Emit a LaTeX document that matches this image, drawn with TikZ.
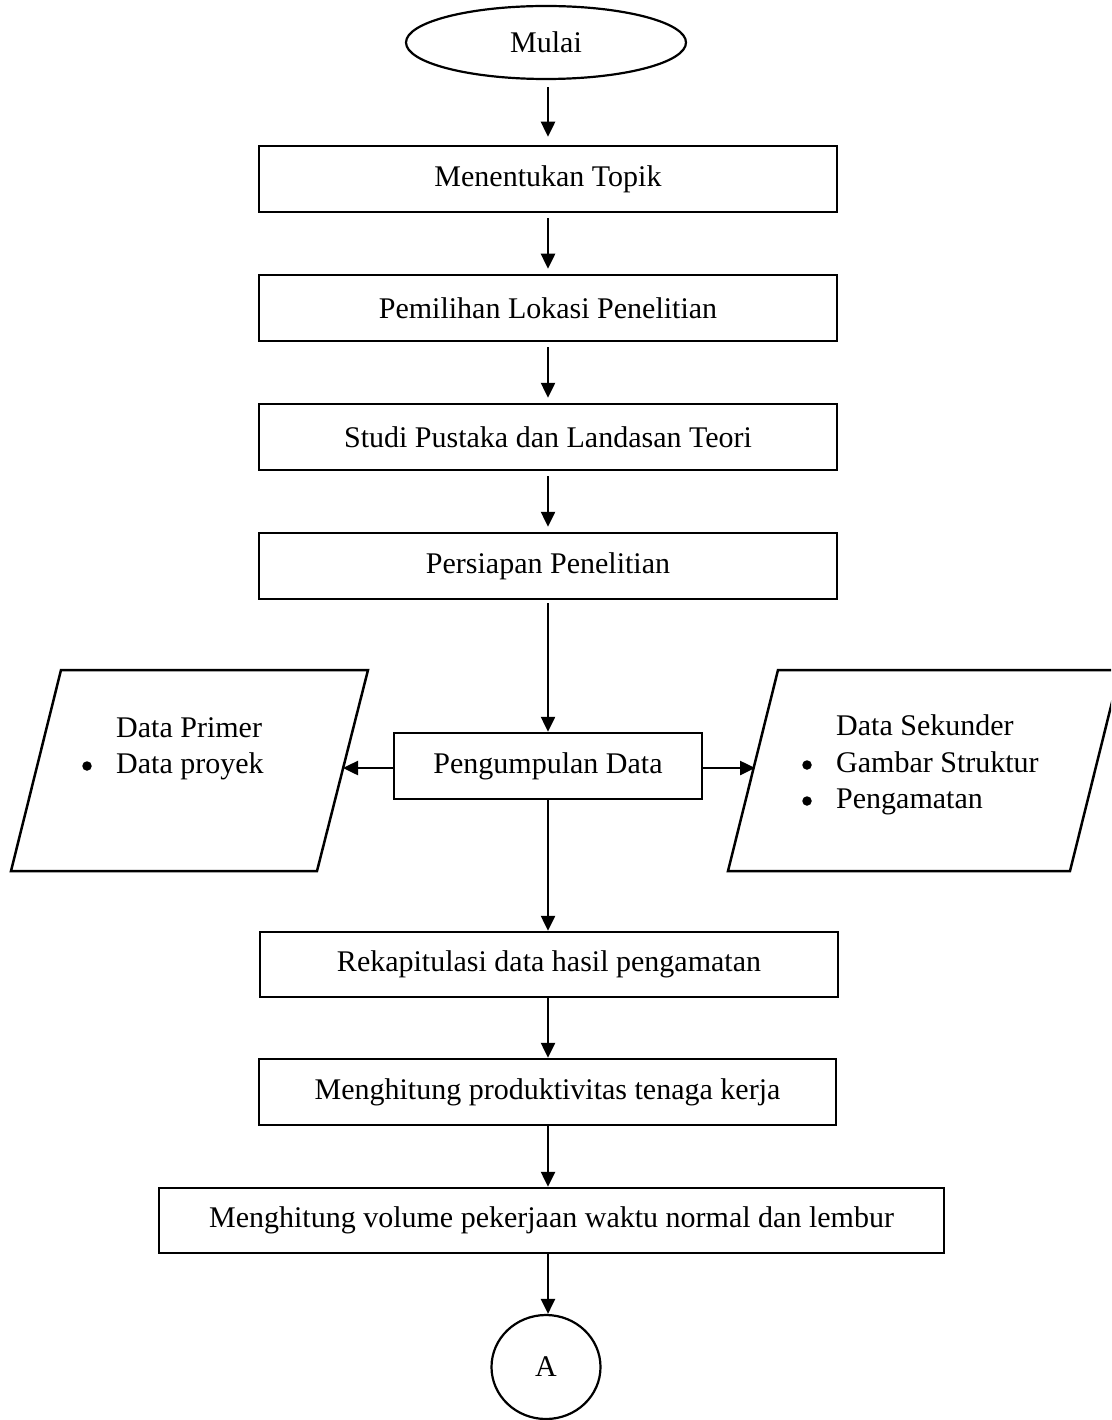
\documentclass[tikz,border=0pt]{standalone}
\usepackage{fontspec}
\setmainfont{Liberation Serif}
\usetikzlibrary{shapes.geometric,arrows.meta}
\tikzset{
  every node/.style={font=\fontsize{30}{36}\selectfont},
  procbox/.style={draw, line width=2.5pt, rectangle, minimum width=578pt, minimum height=66pt, inner sep=0pt},
  flowarrow/.style={line width=2.5pt, -{Triangle[length=15pt,width=14pt]}},
  shapeline/.style={line width=2.5pt, line join=miter},
  txt/.style={anchor=base west, inner sep=0pt},
  dotmark/.style={circle, fill, minimum size=9.5pt, inner sep=0pt}
}
\begin{document}
\begin{tikzpicture}[x=1pt,y=-1pt]
\clip (0,0) rectangle (1111,1420);
\useasboundingbox (0,0) rectangle (1111,1420);

\node[draw, ellipse, line width=2.2pt, minimum width=280pt, minimum height=73pt, inner sep=0pt] (mulai) at (546,42.5) {Mulai};
\node[procbox] (b1) at (548,179) {Menentukan Topik};
\node[procbox] (b2) at (548,308) {Pemilihan Lokasi Penelitian};
\node[procbox] (b3) at (548,437) {Studi Pustaka dan Landasan Teori};
\node[procbox] (b4) at (548,566) {Persiapan Penelitian};
\node[procbox, minimum width=308pt] (pd) at (548,766) {Pengumpulan Data};
\node[procbox, minimum height=65pt] (b5) at (549,964.5) {Rekapitulasi data hasil pengamatan};
\node[procbox, minimum width=577pt] (b6) at (547.5,1092) {Menghitung produktivitas tenaga kerja};
\node[procbox, minimum width=785pt, minimum height=65pt] (b7) at (551.5,1220.5) {Menghitung volume pekerjaan waktu normal dan lembur};
\node[draw, ellipse, line width=2.2pt, minimum width=109pt, minimum height=104pt, inner sep=0pt] (A) at (546,1367) {A};

% parallelograms
\coordinate (ltl) at (61,670);
\coordinate (ltr) at (368,670);
\coordinate (lbr) at (317,871);
\coordinate (lbl) at (11,871);
\draw[shapeline] (ltl) -- (ltr) -- (lbr) -- (lbl) -- cycle;
\coordinate (rtl) at (778,670);
\coordinate (rtr) at (1120,670);
\coordinate (rbr) at (1070,871);
\coordinate (rbl) at (728,871);
\draw[shapeline] (rtl) -- (rtr) -- (rbr) -- (rbl) -- cycle;

\node[txt] (lp1) at (116,737) {Data Primer};
\node[txt] (lp2) at (116,773) {Data proyek};
\node[dotmark] (lb1) at (87,766) {};
\node[txt] (rp1) at (836,735) {Data Sekunder};
\node[txt] (rp2) at (836,772) {Gambar Struktur};
\node[txt] (rp3) at (836,808) {Pengamatan};
\node[dotmark] (rb2) at (807,765) {};
\node[dotmark] (rb3) at (807,801) {};

\coordinate (pl) at (343,768);
\coordinate (pr) at (755,768);

% connectors
\draw[flowarrow, shorten <=7pt, shorten >=8pt] (mulai.south -| b1.north) -- (b1.north);
\draw[flowarrow, shorten <=5pt, shorten >=5pt] (b1.south) -- (b2.north);
\draw[flowarrow, shorten <=5pt, shorten >=5pt] (b2.south) -- (b3.north);
\draw[flowarrow, shorten <=5pt, shorten >=5pt] (b3.south) -- (b4.north);
\draw[flowarrow, shorten <=3pt] (b4.south) -- (pd.north);
\draw[flowarrow] (pd.south) -- (pd.south |- b5.north);
\draw[flowarrow] (pd.south |- b5.south) -- (pd.south |- b6.north);
\draw[flowarrow] (pd.south |- b6.south) -- (pd.south |- b7.north);
\draw[flowarrow] (pd.south |- b7.south) -- (pd.south |- A.north);
\draw[flowarrow] (pd.west |- pl) -- (pl);
\draw[flowarrow] (pd.east |- pr) -- (pr);
\end{tikzpicture}
\end{document}
